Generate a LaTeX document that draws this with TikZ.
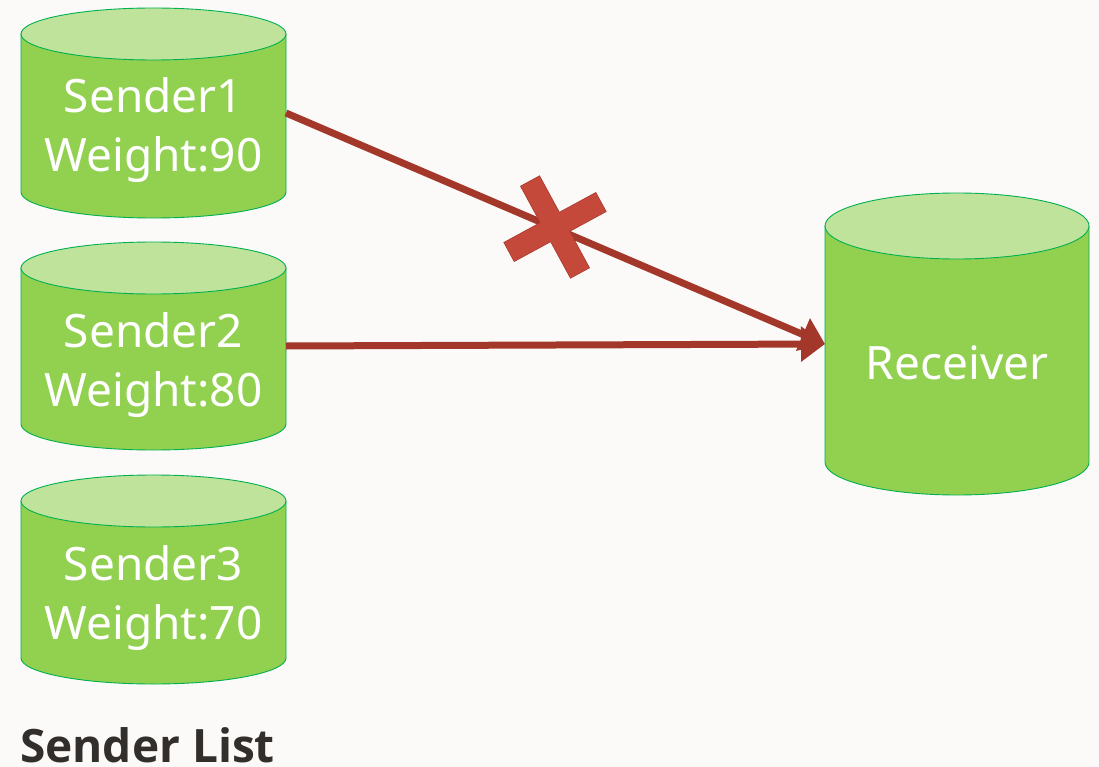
\documentclass[tikz,border=0pt]{standalone}
\usepackage{fontspec}
\setmainfont{Noto Sans}
\newfontfamily\titlefont{Open Sans}
\usetikzlibrary{arrows.meta}
\definecolor{bg}{HTML}{FBFAF8}
\definecolor{cylbodyc}{HTML}{92D050}
\definecolor{cyltopc}{HTML}{C0E39B}
\definecolor{cyledge}{HTML}{00B050}
\definecolor{arrowc}{HTML}{A3382A}
\definecolor{crossc}{HTML}{C4493A}
\definecolor{crossedge}{HTML}{A8392B}
\definecolor{titlec}{HTML}{322E2B}
\newcommand{\mycyl}[5]{%
  \filldraw[cylbody] (#1-#4,#2) -- (#1-#4,#3) arc[start angle=180,end angle=360,x radius=#4pt,y radius=#5pt] -- (#1+#4,#2) -- cycle;
  \filldraw[cyltop] (#1,#2) ellipse[x radius=#4pt, y radius=#5pt];
}
\tikzset{
  cylbody/.style={fill=cylbodyc, draw=cyledge, line width=0.9pt},
  cyltop/.style={fill=cyltopc, draw=cyledge, line width=0.9pt},
  bodynode/.style={rectangle, inner sep=0pt, outer sep=0pt, draw=none},
  lbl/.style={text=white, font=\fontsize{46}{55}\selectfont, anchor=base, inner sep=0pt},
  conn/.style={draw=arrowc, line width=7pt, -{Triangle[length=24pt,width=34pt]}, shorten >=0pt},
  crossbar/.style={rectangle, fill=crossc, inner sep=0pt, minimum width=104pt, minimum height=21pt},
}
\begin{document}
\begin{tikzpicture}[x=1pt,y=-1pt]
\fill[bg] (0,0) rectangle (1099,767);
\useasboundingbox (0,0) rectangle (1099,767);

% cylinders
\mycyl{153.5}{34}{192}{132.5}{26}
\mycyl{153.5}{268}{424}{132.5}{26}
\mycyl{153.5}{501}{658}{132.5}{26}
\mycyl{957}{226}{462}{132}{33}

% body nodes for anchoring
\node[bodynode, minimum width=265pt, minimum height=158pt] (s1) at (153.5,113) {};
\node[bodynode, minimum width=265pt, minimum height=156pt] (s2) at (153.5,346) {};
\node[bodynode, minimum width=265pt, minimum height=157pt] (s3) at (153.5,579.5) {};
\node[bodynode, minimum width=264pt, minimum height=236pt] (r) at (957,344) {};

% labels
\node[lbl] (s1a) at (153.5,113) {Sender1};
\node[lbl] (s1b) at (153.5,172) {Weight:90};
\node[lbl] (s2a) at (153.5,347) {Sender2};
\node[lbl] (s2b) at (153.5,406) {Weight:80};
\node[lbl] (s3a) at (153.5,580) {Sender3};
\node[lbl] (s3b) at (153.5,639) {Weight:70};
\node[lbl] (ra) at (957,379) {Receiver};

% connectors
\draw[conn] (s1.east) -- (r.west);
\draw[conn] (s2.east) -- (r.west);

% cross
\node[crossbar, draw=crossedge, line width=1.4pt, rotate=28.5] (x1) at (555,227) {};
\node[crossbar, draw=crossedge, line width=1.4pt, rotate=118.5] (x2) at (555,227) {};
\node[crossbar, rotate=28.5] (x3) at (555,227) {};
\node[crossbar, rotate=118.5] (x4) at (555,227) {};

% title
\node[text=titlec, font=\fontsize{46}{55}\selectfont\titlefont\bfseries, anchor=base west, inner sep=0pt] (title) at (20,762) {Sender List};
\end{tikzpicture}
\end{document}
